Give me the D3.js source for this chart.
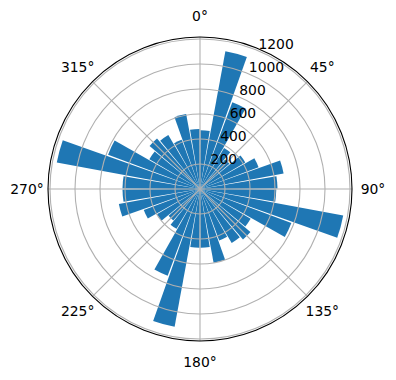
<!DOCTYPE html>
<html>
<head>
<meta charset="utf-8">
<script src="https://cdn.jsdelivr.net/npm/d3@7"></script>
<style>
  body { margin: 0; background: #fff; }
  text { font-family: "DejaVu Sans", sans-serif; font-size: 13.9px; fill: #000; }
</style>
</head>
<body>
<div id="chart"></div>
<script>
const width = 396;
const height = 380;

// bin centres (degrees, clockwise from north) and bar heights
const binCenters = [5, 15, 25, 35, 45, 55, 65, 75, 85,
  95, 105, 115, 125, 135, 145, 155, 165, 175,
  185, 195, 205, 215, 225, 235, 245, 255, 265,
  275, 285, 295, 305, 315, 325, 335, 345, 355];
const counts = [470, 1120, 740, 380, 310, 420, 500, 680, 620,
  610, 1165, 780, 470, 530, 500, 440, 600, 470,
  470, 1120, 740, 370, 330, 400, 480, 660, 620,
  620, 1165, 785, 470, 530, 500, 420, 610, 480];
const binWidth = 10;

const radialTicks = [200, 400, 600, 800, 1000, 1200];
const angleTicks = [0, 45, 90, 135, 180, 225, 270, 315];
const angleLabels = ["0°", "45°", "90°", "135°", "180°", "225°", "270°", "315°"];

const cx = 200, cy = 189, R = 152;
const rMax = 1216;

const svg = d3.select("#chart")
  .append("svg")
  .attr("width", width)
  .attr("height", height);

const g = svg.append("g").attr("transform", `translate(${cx},${cy})`);

const r = d3.scaleLinear().domain([0, rMax]).range([0, R]);
const toRad = d => d * Math.PI / 180;

// bars
const gap = 0.9;
const arc = d3.arc()
  .innerRadius(0)
  .outerRadius(d => r(d.v))
  .startAngle(d => toRad(d.a - binWidth / 2 + gap / 2))
  .endAngle(d => toRad(d.a + binWidth / 2 - gap / 2));

g.selectAll(".bar")
  .data(binCenters.map((a, i) => ({ a, v: counts[i] })))
  .enter()
  .append("path")
  .attr("class", "bar")
  .attr("d", arc)
  .attr("fill", "#1f77b4");

// grid (drawn over the bars, like matplotlib)
g.selectAll(".rgrid")
  .data(radialTicks)
  .enter()
  .append("circle")
  .attr("r", d => r(d))
  .attr("fill", "none")
  .attr("stroke", "#b0b0b0")
  .attr("stroke-width", 1.1);

g.selectAll(".tgrid")
  .data(angleTicks)
  .enter()
  .append("line")
  .attr("x1", 0).attr("y1", 0)
  .attr("x2", d => R * Math.sin(toRad(d)))
  .attr("y2", d => -R * Math.cos(toRad(d)))
  .attr("stroke", "#b0b0b0")
  .attr("stroke-width", 1.1);

// outer spine
g.append("circle")
  .attr("r", R)
  .attr("fill", "none")
  .attr("stroke", "#000")
  .attr("stroke-width", 1.1);

// angle labels
g.selectAll(".tlabel")
  .data(angleTicks)
  .enter()
  .append("text")
  .attr("x", d => (R + 21) * Math.sin(toRad(d)))
  .attr("y", d => -(R + 21) * Math.cos(toRad(d)))
  .attr("text-anchor", "middle")
  .attr("dominant-baseline", "central")
  .text((d, i) => angleLabels[i]);

// radial labels at 22.5°
const labelAngle = toRad(22.5);
g.selectAll(".rlabel")
  .data(radialTicks)
  .enter()
  .append("text")
  .attr("x", d => r(d) * Math.sin(labelAngle) + 1)
  .attr("y", d => -r(d) * Math.cos(labelAngle) - 1.5)
  .attr("text-anchor", "start")
  .text(d => d);
</script>
</body>
</html>
